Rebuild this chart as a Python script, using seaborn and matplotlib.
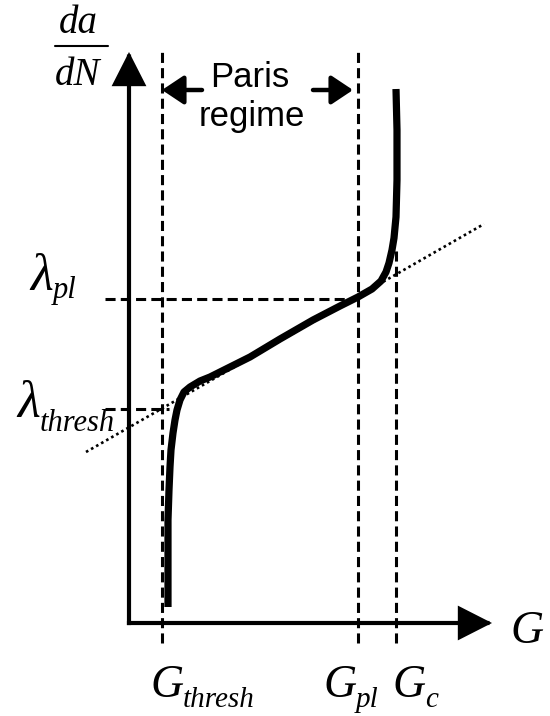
import matplotlib
matplotlib.use("Agg")
import matplotlib.pyplot as plt
import seaborn as sns
import pandas as pd

sns.set_theme(style="white")
plt.rcParams["font.family"] = ["Liberation Sans", "DejaVu Sans"]
plt.rcParams["text.color"] = "black"

# Schematic crack-growth curve (arbitrary units): energy release rate G vs da/dN
curve_G = [39, 39, 39, 40, 41, 42, 44, 46, 48, 51, 55, 61, 71, 81, 101, 121,
           151, 184, 211, 229, 243, 252, 257, 260, 263, 265, 267, 268, 268, 267]
curve_rate = [16, 63, 103, 133, 156, 173, 190, 203, 213, 223, 231, 236, 242, 246,
              256, 266, 284, 303, 317, 326, 334, 342, 351, 360, 373, 385, 406,
              443, 493, 534]

# Power-law (Paris) fit line
paris_G = [-43, 355]
paris_rate = [171, 399]

# Characteristic levels
G_thresh, G_pl, G_c = 33, 229, 267
lam_thresh, lam_pl = 214, 324

# Axis extents
G_axis_end, rate_axis_end = 363, 571

fig = plt.figure(figsize=(5.5, 7.16), dpi=100)
ax = fig.add_axes([0, 0, 1, 1])
ax.set_xlim(-129, 421)
ax.set_ylim(-93, 623)
ax.axis("off")
renderer = fig.canvas.get_renderer()

dash = dict(color="black", lw=2.2, linestyle=(0, (3.3, 1.7)), zorder=2)

# Reference lines
ax.plot([G_thresh, G_thresh], [-20, rate_axis_end], **dash)
ax.plot([G_pl, G_pl], [-20, rate_axis_end], **dash)
ax.plot([G_c, G_c], [-20, 373], **dash)
ax.plot([-24, G_pl - 4], [lam_pl, lam_pl], **dash)
ax.plot([-24, 40], [lam_thresh, lam_thresh], **dash)

# Paris-law line
sns.lineplot(x=paris_G, y=paris_rate, ax=ax, color="black", lw=1.9,
             linestyle=(0, (1, 1.2)), sort=False, estimator=None, zorder=3)

# Crack-growth curve
df = pd.DataFrame({"G": curve_G, "rate": curve_rate})
sns.lineplot(data=df, x="G", y="rate", ax=ax, color="black", lw=5.2,
             sort=False, estimator=None, zorder=4,
             solid_capstyle="butt", solid_joinstyle="round")

# Axes with arrowheads
axis_arrow = dict(arrowstyle="-|>,head_length=0.55,head_width=0.28", lw=3,
                  color="black", mutation_scale=36, shrinkA=0, shrinkB=0,
                  joinstyle="miter", capstyle="projecting")
ax.annotate("", xy=(0, rate_axis_end), xytext=(0, 0), arrowprops=axis_arrow, zorder=5)
ax.annotate("", xy=(G_axis_end, 0), xytext=(0, 0), arrowprops=axis_arrow, zorder=5)

# Paris regime bracket arrows
small_arrow = dict(arrowstyle="-|>,head_length=0.6,head_width=0.4", lw=3.2,
                   color="black", mutation_scale=22, shrinkA=0, shrinkB=0)
ax.annotate("", xy=(G_thresh, 533), xytext=(73, 533), arrowprops=small_arrow, zorder=5)
ax.annotate("", xy=(G_pl - 5, 533), xytext=(184, 533), arrowprops=small_arrow, zorder=5)
ax.text(121, 536, "Paris", ha="center", va="baseline", fontsize=25)
ax.text(123, 497, "regime", ha="center", va="baseline", fontsize=25)

serif = dict(family="Liberation Serif", style="italic", va="baseline")


def subscripted(x, y, main, sub, size, sub_size, drop):
    """Italic serif symbol with a dropped subscript set right after it."""
    t = ax.text(x, y, main, ha="left", fontsize=size, **serif)
    right = ax.transData.inverted().transform((t.get_window_extent(renderer).x1, 0))[0]
    ax.text(right, y - drop, sub, ha="left", fontsize=sub_size, **serif)


# Axis titles
ax.text(-51, 590, "da", ha="center", fontsize=28, **serif)
ax.plot([-74, -21], [577, 577], color="black", lw=1.5)
ax.text(-51, 538, "dN", ha="center", fontsize=28, **serif)
ax.text(381, -20, "G", ha="left", fontsize=33, **serif)

# Level labels
subscripted(-99, 333, "λ", "pl", 38, 22, 8)
subscripted(-112, 206, "λ", "thresh", 38, 22, 14)
subscripted(21, -74, "G", "thresh", 33, 21, 10)
subscripted(194, -74, "G", "pl", 33, 21, 10)
subscripted(263, -74, "G", "c", 33, 21, 10)

fig.savefig("out.png", dpi=100)
